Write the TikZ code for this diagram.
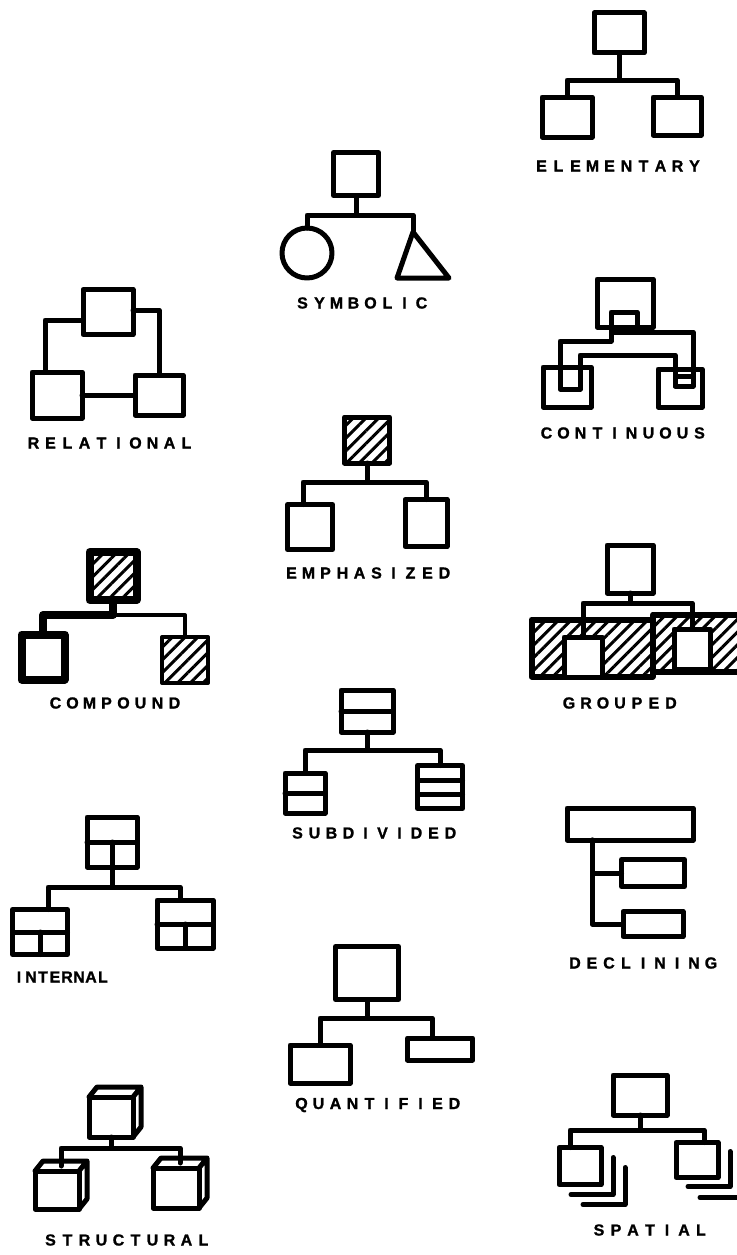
\documentclass[tikz,border=0pt]{standalone}
\usepackage{fontspec}
\newfontfamily\tagfont[FakeBold=1.2]{Liberation Sans Bold}
\usetikzlibrary{patterns.meta}
\newlength\tagpitch
\def\tagloop#1{\ifx#1\relax\else\makebox[\tagpitch]{#1}\expandafter\tagloop\fi}
\newcommand\spaced[2][17pt]{\setlength\tagpitch{#1}\tagloop#2\relax}

\begin{document}
\begin{tikzpicture}[x=1pt, y=-1pt,
    ink/.style={line width=5pt, line cap=round, line join=round},
    box/.style args={#1x#2}{draw, ink, rectangle, inner sep=0pt, outer sep=0pt, minimum width=#1pt, minimum height=#2pt},
    hatch/.style={pattern={Lines[angle=45, distance=9pt, line width=3pt]}},
    tag/.style={font=\tagfont\fontsize{16}{16}\selectfont, inner sep=0pt},
]
\useasboundingbox[fill=white] (0,0) rectangle (736,1255);

% elementary
\node[box=50x40] (eTop) at (619,33) {};
\node[box=50x40] (eL) at (567,117) {};
\node[box=48x38] (eR) at (677,116) {};
\coordinate (eBar) at (619,80);
\draw[ink] (eTop.south) -- (eBar);
\draw[ink] (eL.north) |- (eBar) -| (eR.north);
\node[tag] (eTag) at (618,166) {\spaced{ELEMENTARY}};

% symbolic
\node[box=45x43] (sTop) at (356,174) {};
\node[draw, ink, circle, inner sep=0pt, outer sep=0pt, minimum size=50pt] (sL) at (307,253) {};
\coordinate (sR) at (413,232);
\draw[ink] (sR) -- (397,278) -- (449,278) -- cycle;
\coordinate (sBar) at (356,215);
\draw[ink] (sTop.south) -- (sBar);
\draw[ink] (sL.north) |- (sBar) -| (sR);
\node[tag] (sTag) at (362,303) {\spaced{SYMBOLIC}};

% relational
\node[box=50x45] (rTop) at (108,312) {};
\node[box=50x46] (rL) at (57,395) {};
\node[box=48x40] (rR) at (159,395) {};
\draw[ink] ([yshift=-8pt]rTop.west) -| ([xshift=-12pt]rL.north);
\draw[ink] ([yshift=2pt]rTop.east) -| (rR.north);
\draw[ink] (rL.east) -- (rR.west);
\node[tag] (rTag) at (110,443) {\spaced{RELATIONAL}};

% continuous
\node[box=56x48] (cTop) at (625,303) {};
\node[box=26x20] (cIn) at (624,322) {};
\node[box=48x40] (cL) at (567,387) {};
\node[box=20x22] (cLi) at (570,378) {};
\node[box=44x38] (cR) at (680,388) {};
\node[box=18x10] (cRi) at (684,381) {};
\coordinate (cLow) at (628,355);
\draw[ink] (cLi.north west) -- ++(0,-26) -| (cIn.south west);
\draw[ink] (cIn.south east) -| (cRi.north east);
\draw[ink] (cLi.south east) |- (cLow) -| (cRi.south west);
\node[tag] (cTag) at (623,433) {\spaced{CONTINUOUS}};

% emphasized
\node[box=45x46, hatch] (mTop) at (367,440) {};
\node[box=45x45] (mL) at (310,527) {};
\node[box=42x47] (mR) at (426,523) {};
\coordinate (mBar) at (367,482);
\draw[ink] (mTop.south) -- (mBar);
\draw[ink] ([xshift=-7pt]mL.north) |- (mBar) -| (mR.north);
\node[tag] (mTag) at (368,573) {\spaced{EMPHASIZED}};

% compound
\node[box=47x48, hatch, line width=8pt] (pTop) at (113,576) {};
\node[box=43x45, line width=8pt] (pL) at (43,657) {};
\node[box=46x46, hatch, line width=4pt] (pR) at (185,660) {};
\coordinate (pBar) at (113,615);
\draw[ink, line width=8pt] (pTop.south) -- (pBar) -| (pL.north);
\draw[ink, line width=4pt] (pBar) -| (pR.north);
\node[tag] (pTag) at (115,703) {\spaced{COMPOUND}};

% grouped
\node[box=121x57, hatch, line width=6pt] (gA) at (592,648) {};
\node[box=92x57, hatch, line width=6pt] (gB) at (699,643) {};
\node[box=38x40, fill=white] (gL) at (583,657) {};
\node[box=36x40, fill=white] (gR) at (692,649) {};
\node[box=46x48] (gTop) at (630,569) {};
\coordinate (gBar) at (630,603);
\draw[ink] (gTop.south) -- (gBar);
\draw[ink] (gL.north) |- (gBar) -| (gR.north);
\node[tag] (gTag) at (620,703) {\spaced{GROUPED}};

% subdivided
\node[box=52x42] (dTop) at (367,711) {};
\node[box=40x40] (dL) at (305,793) {};
\node[box=45x43] (dR) at (440,787) {};
\draw[ink] (dTop.west) -- (dTop.east);
\draw[ink] (dL.west) -- (dL.east);
\draw[ink] ([yshift=7pt]dR.west) -- ([yshift=7pt]dR.east);
\draw[ink] ([yshift=-7pt]dR.west) -- ([yshift=-7pt]dR.east);
\coordinate (dBar) at (367,750);
\draw[ink] (dTop.south) -- (dBar);
\draw[ink] (dL.north) |- (dBar) -| (dR.north);
\node[tag] (dTag) at (374,833) {\spaced{SUBDIVIDED}};

% internal
\node[box=50x50] (iTop) at (112,842) {};
\node[box=55x45] (iL) at (40,932) {};
\node[box=56x48] (iR) at (185,924) {};
\draw[ink] (iTop.west) -- (iTop.east) (iTop.center) -- (iTop.south);
\draw[ink] (iL.west) -- (iL.east) (iL.center) -- (iL.south);
\draw[ink] (iR.west) -- (iR.east) (iR.center) -- (iR.south);
\coordinate (iBar) at (112,887);
\draw[ink] (iTop.south) -- (iBar);
\draw[ink] ([xshift=8pt]iL.north) |- (iBar) -| ([xshift=-5pt]iR.north);
\node[tag] (iTag) at (61,977) {\spaced[12pt]{INTERNAL}};

% declining
\node[box=126x32] (nTop) at (630,824) {};
\node[box=63x27] (nM) at (653,873) {};
\node[box=60x25] (nB) at (653,924) {};
\draw[ink] ([xshift=-38pt]nTop.south) |- (nB.west);
\draw[ink] ([xshift=-38pt]nTop.south) |- (nM.west);
\node[tag] (nTag) at (643,963) {\spaced{DECLINING}};

% quantified
\node[box=63x53] (qTop) at (367,973) {};
\node[box=60x38] (qL) at (320,1064) {};
\node[box=65x22] (qR) at (440,1049) {};
\coordinate (qBar) at (367,1018);
\draw[ink] (qTop.south) -- (qBar);
\draw[ink] (qL.north) |- (qBar) -| ([xshift=-8pt]qR.north);
\node[tag] (qTag) at (378,1105) {\spaced{QUANTIFIED}};

% structural
\node[box=44x40] (tC) at (111,1117) {};
\node[box=44x38] (tL) at (57,1190) {};
\node[box=46x40] (tR) at (176,1188) {};
\draw[ink] (tC.north west) -- ++(8,-10) -- ([shift={(8,-10)}]tC.north east) -- ([shift={(8,-10)}]tC.south east) -- (tC.south east) (tC.north east) -- ++(8,-10);
\draw[ink] (tL.north west) -- ++(8,-10) -- ([shift={(8,-10)}]tL.north east) -- ([shift={(8,-10)}]tL.south east) -- (tL.south east) (tL.north east) -- ++(8,-10);
\draw[ink] (tR.north west) -- ++(8,-10) -- ([shift={(8,-10)}]tR.north east) -- ([shift={(8,-10)}]tR.south east) -- (tR.south east) (tR.north east) -- ++(8,-10);
\coordinate (tBar) at (111,1148);
\draw[ink] (tC.south) -- (tBar);
\draw[ink] ([shift={(4,-5)}]tL.north) |- (tBar) -| ([shift={(4,-5)}]tR.north);
\node[tag] (tTag) at (127,1240) {\spaced{STRUCTURAL}};

% spatial
\node[box=54x40] (aTop) at (640,1095) {};
\node[box=42x37] (aL) at (580,1166) {};
\node[box=42x35] (aR) at (697,1160) {};
\draw[ink] ([shift={(12,10)}]aL.south west) -- ([shift={(12,10)}]aL.south east) -- ([shift={(12,10)}]aL.north east);
\draw[ink] ([shift={(24,20)}]aL.south west) -- ([shift={(24,20)}]aL.south east) -- ([shift={(24,20)}]aL.north east);
\draw[ink] ([shift={(12,9)}]aR.south west) -- ([shift={(12,9)}]aR.south east) -- ([shift={(12,9)}]aR.north east);
\draw[ink] ([shift={(24,20)}]aR.south west) -- ([shift={(24,20)}]aR.south east) -- ([shift={(24,20)}]aR.north east);
\coordinate (aBar) at (640,1130);
\draw[ink] (aTop.south) -- (aBar);
\draw[ink] ([xshift=-10pt]aL.north) |- (aBar) -| ([xshift=7pt]aR.north);
\node[tag] (aTag) at (650,1230) {\spaced{SPATIAL}};
\end{tikzpicture}
\end{document}
